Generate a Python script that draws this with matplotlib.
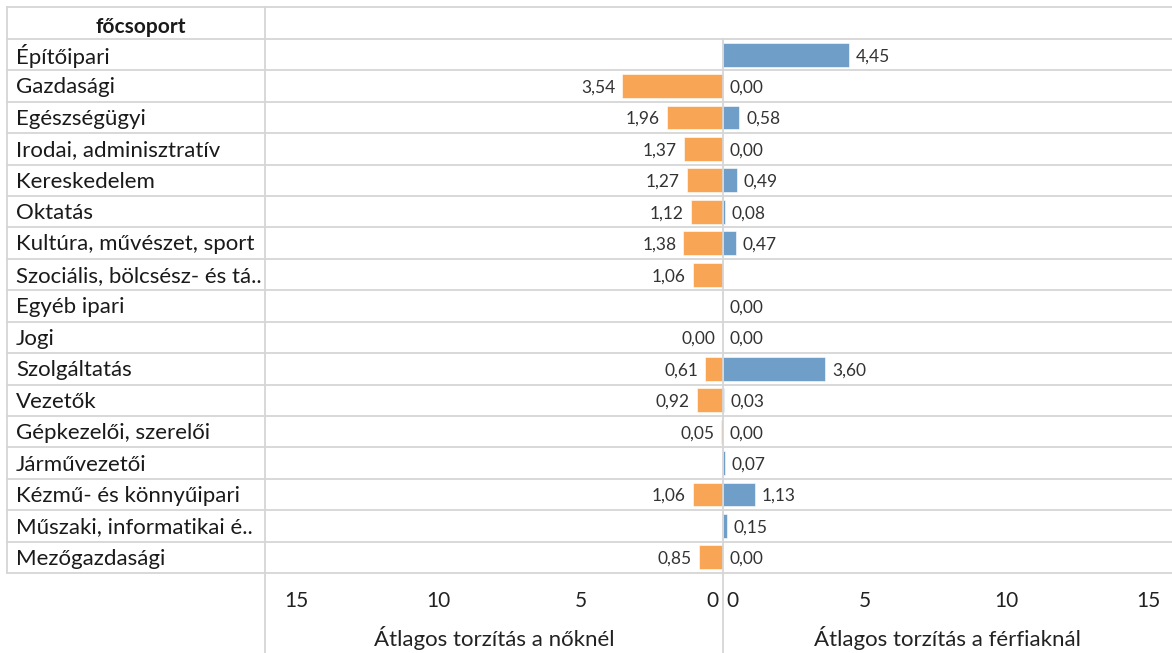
import numpy as np
import matplotlib
matplotlib.use("Agg")
import matplotlib.pyplot as plt
from matplotlib.lines import Line2D

plt.rcParams['font.family'] = ['Lato', 'DejaVu Sans']

csoportok = ["Építőipari", "Gazdasági", "Egészségügyi", "Irodai, adminisztratív",
             "Kereskedelem", "Oktatás", "Kultúra, művészet, sport",
             "Szociális, bölcsész- és tá..", "Egyéb ipari", "Jogi", "Szolgáltatás",
             "Vezetők", "Gépkezelői, szerelői", "Járművezetői",
             "Kézmű- és könnyűipari", "Műszaki, informatikai é..", "Mezőgazdasági"]

# None = nincs adat
nok = [None, 3.54, 1.96, 1.37, 1.27, 1.12, 1.38, 1.06, None, 0.00, 0.61,
       0.92, 0.05, None, 1.06, None, 0.85]
ferfiak = [4.45, 0.00, 0.58, 0.00, 0.49, 0.08, 0.47, None, 0.00, 0.00, 3.60,
           0.03, 0.00, 0.07, 1.13, 0.15, 0.00]

tick_vals = [0, 5, 10, 15]

W, H = 1172, 653
fig = plt.figure(figsize=(W / 100, H / 100), dpi=100)

def box(x0, y0, x1, y1):
    return [x0 / W, 1 - y1 / H, (x1 - x0) / W, (y1 - y0) / H]

racs = '#d6d6d6'
szoveg = '#333333'
narancs = '#f8a655'
kek = '#6f9ec8'

n = len(csoportok)

ax_lab = fig.add_axes(box(7, 7, 265, 573))
ax_n = fig.add_axes(box(265, 39, 722.7, 573))
ax_f = fig.add_axes(box(722.7, 39, 1172, 573))

# felirat oszlop
ax_lab.set_ylim(n - 0.5, -1.5)
ax_lab.set_xlim(0, 1)
ax_lab.axis('off')
ax_lab.text(0.52, -0.85, "főcsoport", ha='center', va='center', fontsize=15,
            fontweight='bold', color='#1a1a1a')
for i, c in enumerate(csoportok):
    ax_lab.text(0.035, i + 0.05, c, ha='left', va='center', fontsize=16, color='#1a1a1a')

ax_n.set_xlim(16.1, 0)
ax_f.set_xlim(0, 449.3 / 28.4)

for ax, vals, color, side in [(ax_n, nok, narancs, -1), (ax_f, ferfiak, kek, 1)]:
    ax.set_ylim(n - 0.5, -0.5)
    for s in ax.spines.values():
        s.set_visible(False)
    ax.set_yticks([])
    ax.set_xticks([])
    for i, v in enumerate(vals):
        if v is None:
            continue
        ax.barh(i, v, height=0.76, color=color, edgecolor='white', linewidth=0.4)
        ax.annotate(f"{v:.2f}".replace('.', ','), (v, i + 0.05), xytext=(side * 5, 0),
                    textcoords='offset points', ha='left' if side > 0 else 'right',
                    va='center', fontsize=12.5, color=szoveg)
    # tengelyfeliratok kézzel, hogy a két 0 ne fedje egymást
    for t in tick_vals:
        if t == 0:
            ha, dx = ('left', 3) if side > 0 else ('right', -3)
        else:
            ha, dx = 'center', 0
        ax.annotate(str(t), (t, 0), xycoords=('data', 'axes fraction'),
                    xytext=(dx, -20), textcoords='offset points', ha=ha, va='center',
                    fontsize=15, color='#222222', annotation_clip=False)

ax_n.set_xlabel("Átlagos torzítás a nőknél", fontsize=16, color='#222222', labelpad=38)
ax_f.set_xlabel("Átlagos torzítás a férfiaknál", fontsize=16, color='#222222', labelpad=38)

# táblázat rácsvonalai
def hline(yp, x0=7, x1=W):
    fig.add_artist(Line2D([x0 / W, x1 / W], [1 - yp / H, 1 - yp / H], color=racs, lw=1.3))

def vline(xp, y0, y1):
    fig.add_artist(Line2D([xp / W, xp / W], [1 - y0 / H, 1 - y1 / H], color=racs, lw=1.3))

row_h = (573 - 39) / n
hline(7)
for k in range(n + 1):
    hline(39 + k * row_h)
vline(7, 7, 573)
vline(265, 7, H)
vline(722.7, 39, H)

fig.savefig("out.png", dpi=100)
